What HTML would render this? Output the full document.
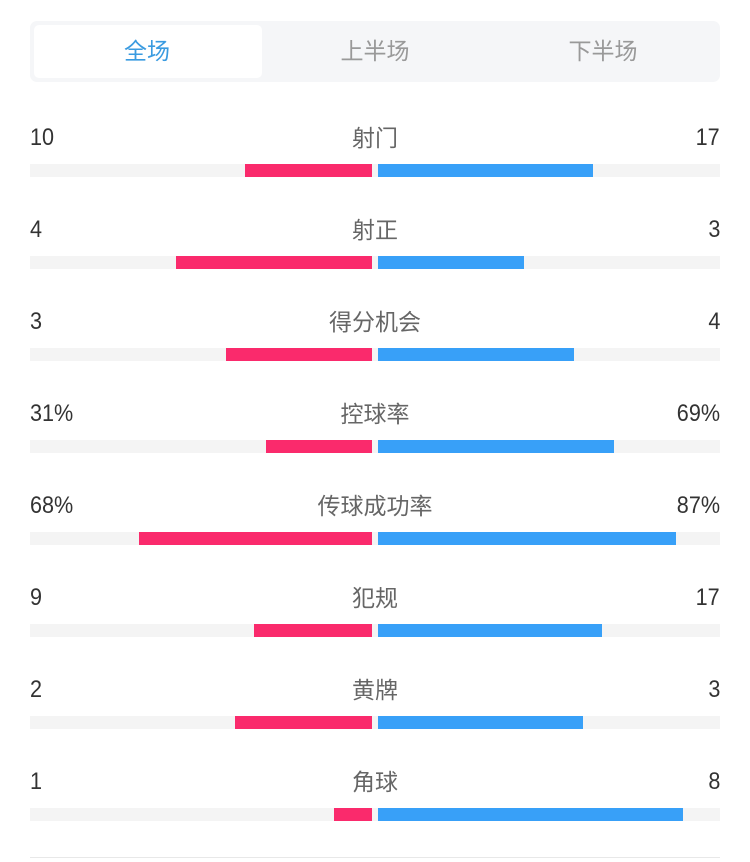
<!DOCTYPE html>
<html><head><meta charset="utf-8"><style>
*{margin:0;padding:0;box-sizing:border-box}
body{width:750px;height:862px;background:#fff;position:relative;overflow:hidden;font-family:"Liberation Sans","Noto Sans CJK SC",sans-serif}
.tabs{position:absolute;left:30px;top:21px;width:690px;height:61px;background:#f5f6f8;border-radius:7px}
.act{position:absolute;left:4px;top:4px;width:228px;height:53px;background:#fff;border-radius:5px}
.t{position:absolute;top:0;height:61px;line-height:61px;font-size:23px;color:#999;text-align:center;width:230px}
.n{position:absolute;font-size:24px;color:#333;line-height:28px;transform:scaleX(0.9)}
.l{position:absolute;left:0;width:750px;text-align:center;font-size:23px;color:#666;line-height:28px}
.tr{position:absolute;left:30px;width:690px;height:13px;background:#f4f4f4}
.r{position:absolute;height:13px;background:#fa2a6c}
.b{position:absolute;height:13px;background:#38a0f8}
</style></head><body>
<div class="tabs"><div class="act"></div>
<div class="t" style="left:2px;color:#3a9be0">全场</div>
<div class="t" style="left:230px">上半场</div>
<div class="t" style="left:458px">下半场</div></div>
<div id="rows"></div>
<div style="position:absolute;left:30px;top:857px;width:690px;height:1px;background:#e8e8e8"></div>
<script>
var d=[["10","射门","17",245,593],["4","射正","3",176,524],["3","得分机会","4",226,574],["31%","控球率","69%",266,614],["68%","传球成功率","87%",139,676],["9","犯规","17",254,602],["2","黄牌","3",235,583],["1","角球","8",334,683]];
var h="";d.forEach(function(r,i){var y=164+92*i,ty=y-40;
h+='<div class="n" style="left:30px;top:'+ty+'px;transform-origin:left">'+r[0]+'</div><div class="l" style="top:'+ty+'px">'+r[1]+'</div><div class="n" style="right:30px;top:'+ty+'px;transform-origin:right">'+r[2]+'</div><div class="tr" style="top:'+y+'px"></div><div class="r" style="top:'+y+'px;left:'+r[3]+'px;width:'+(372-r[3])+'px"></div><div class="b" style="top:'+y+'px;left:378px;width:'+(r[4]-378)+'px"></div>';});
document.getElementById("rows").innerHTML=h;
</script>
</body></html>
